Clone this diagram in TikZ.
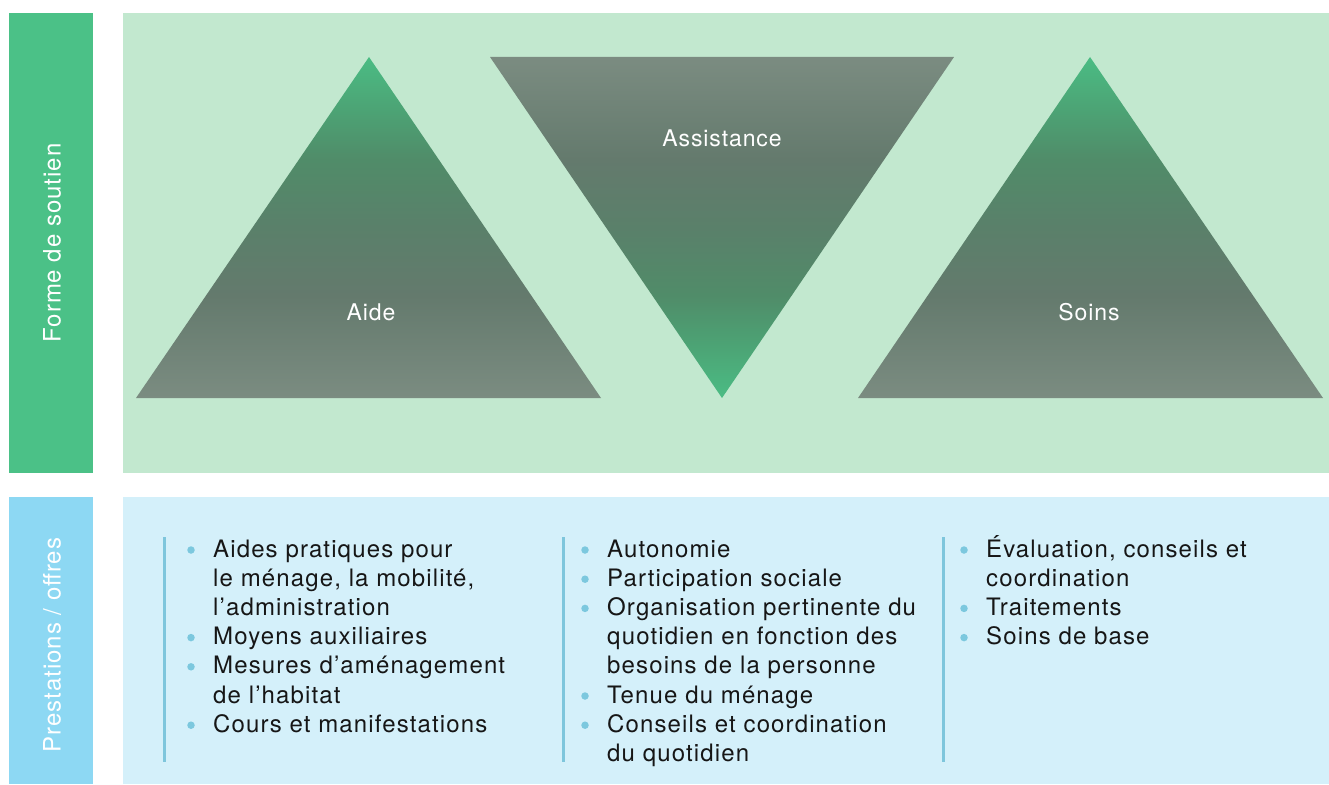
\documentclass[tikz,border=0pt]{standalone}
\usepackage{fontspec}
\setmainfont{TeX Gyre Heros}
\newfontfamily\bodyfont[LetterSpace=4.7]{TeX Gyre Heros}
\newfontfamily\labelfont[LetterSpace=4]{TeX Gyre Heros}
\definecolor{greenbar}{HTML}{4BC187}
\definecolor{greenpanel}{HTML}{C2E8CF}
\definecolor{bluebar}{HTML}{8DD8F3}
\definecolor{bluepanel}{HTML}{D4F0FA}
\definecolor{rulec}{HTML}{7EC6DC}
\definecolor{bulletc}{HTML}{7CC8DE}
\definecolor{itemtext}{HTML}{161616}
\definecolor{tribase}{HTML}{7B8C81}
\definecolor{trimidA}{HTML}{647A6D}
\definecolor{trimidB}{HTML}{5A806A}
\definecolor{trimidC}{HTML}{508C69}
\definecolor{trimidD}{HTML}{4CA475}
\definecolor{tritip}{HTML}{4BBC84}
\pgfdeclareverticalshading{trishade}{100bp}{color(0bp)=(tribase); color(25bp)=(tribase); color(40bp)=(trimidA); color(50bp)=(trimidB); color(60bp)=(trimidC); color(67.5bp)=(trimidD); color(75bp)=(tritip); color(100bp)=(tritip)}
\tikzset{
  item/.style={anchor=base west, inner sep=0pt, font=\bodyfont\fontsize{24}{29}\selectfont, text=itemtext},
  dot/.style={circle, fill=bulletc, inner sep=0pt, minimum size=7.5pt},
  rulel/.style={draw=rulec, line width=3pt},
  trilabel/.style={anchor=base, inner sep=0pt, font=\labelfont\fontsize{23}{28}\selectfont, text=white},
  sidelabel/.style={inner sep=0pt, font=\labelfont\fontsize{24}{28}\selectfont, text=white, rotate=90},
}
\begin{document}
\begin{tikzpicture}[x=1pt,y=-1pt]
\useasboundingbox (0,0) rectangle (1329,784);
% panels
\fill[greenbar] (9,13) rectangle (93,473);
\fill[greenpanel] (123,13) rectangle (1329,473);
\fill[bluebar] (9,497) rectangle (93,784);
\fill[bluepanel] (123,497) rectangle (1329,784);
% triangles
\shade[shading=trishade] (136,398) -- (369,57) -- (601,398) -- cycle;
\shade[shading=trishade, shading angle=180] (490,57) -- (954,57) -- (722,398) -- cycle;
\shade[shading=trishade] (858,398) -- (1090,57) -- (1323,398) -- cycle;
% labels
\node[sidelabel] (forme) at (52,243) {Forme de soutien};
\node[sidelabel] (prest) at (52,645) {Prestations / offres};
\node[trilabel] (aide) at (371,320) {Aide};
\node[trilabel] (assist) at (722,146) {Assistance};
\node[trilabel] (soins) at (1089,320) {Soins};
% rules
\coordinate (r1a) at (164,537); \coordinate (r1b) at (164,762);
\coordinate (r2a) at (563,537); \coordinate (r2b) at (563,762);
\coordinate (r3a) at (943,537); \coordinate (r3b) at (943,762);
\draw[rulel] (r1a) -- (r1b);
\draw[rulel] (r2a) -- (r2b);
\draw[rulel] (r3a) -- (r3b);
% column 1
\node[dot] (b1a) at (191,550) {};
\node[item] (t1a) at (213,557) {Aides pratiques pour};
\node[item] (t1b) at (213,586.2) {le ménage, la mobilité,};
\node[item] (t1c) at (213,615.4) {l’administration};
\node[dot] (b1d) at (191,637.6) {};
\node[item] (t1d) at (213,644.6) {Moyens auxiliaires};
\node[dot] (b1e) at (191,666.8) {};
\node[item] (t1e) at (213,673.8) {Mesures d’aménagement};
\node[item] (t1f) at (213,703) {de l’habitat};
\node[dot] (b1g) at (191,725.2) {};
\node[item] (t1g) at (213,732.2) {Cours et manifestations};
% column 2
\node[dot] (b2a) at (585,550) {};
\node[item] (t2a) at (607,557) {Autonomie};
\node[dot] (b2b) at (585,579.2) {};
\node[item] (t2b) at (607,586.2) {Participation sociale};
\node[dot] (b2c) at (585,608.4) {};
\node[item] (t2c) at (607,615.4) {Organisation pertinente du};
\node[item] (t2d) at (607,644.6) {quotidien en fonction des};
\node[item] (t2e) at (607,673.8) {besoins de la personne};
\node[dot] (b2f) at (585,696) {};
\node[item] (t2f) at (607,703) {Tenue du ménage};
\node[dot] (b2g) at (585,725.2) {};
\node[item] (t2g) at (607,732.2) {Conseils et coordination};
\node[item] (t2h) at (607,761.4) {du quotidien};
% column 3
\node[dot] (b3a) at (964,550) {};
\node[item] (t3a) at (986,557) {Évaluation, conseils et};
\node[item] (t3b) at (986,586.2) {coordination};
\node[dot] (b3c) at (964,608.4) {};
\node[item] (t3c) at (986,615.4) {Traitements};
\node[dot] (b3d) at (964,637.6) {};
\node[item] (t3d) at (986,644.6) {Soins de base};
\end{tikzpicture}
\end{document}
